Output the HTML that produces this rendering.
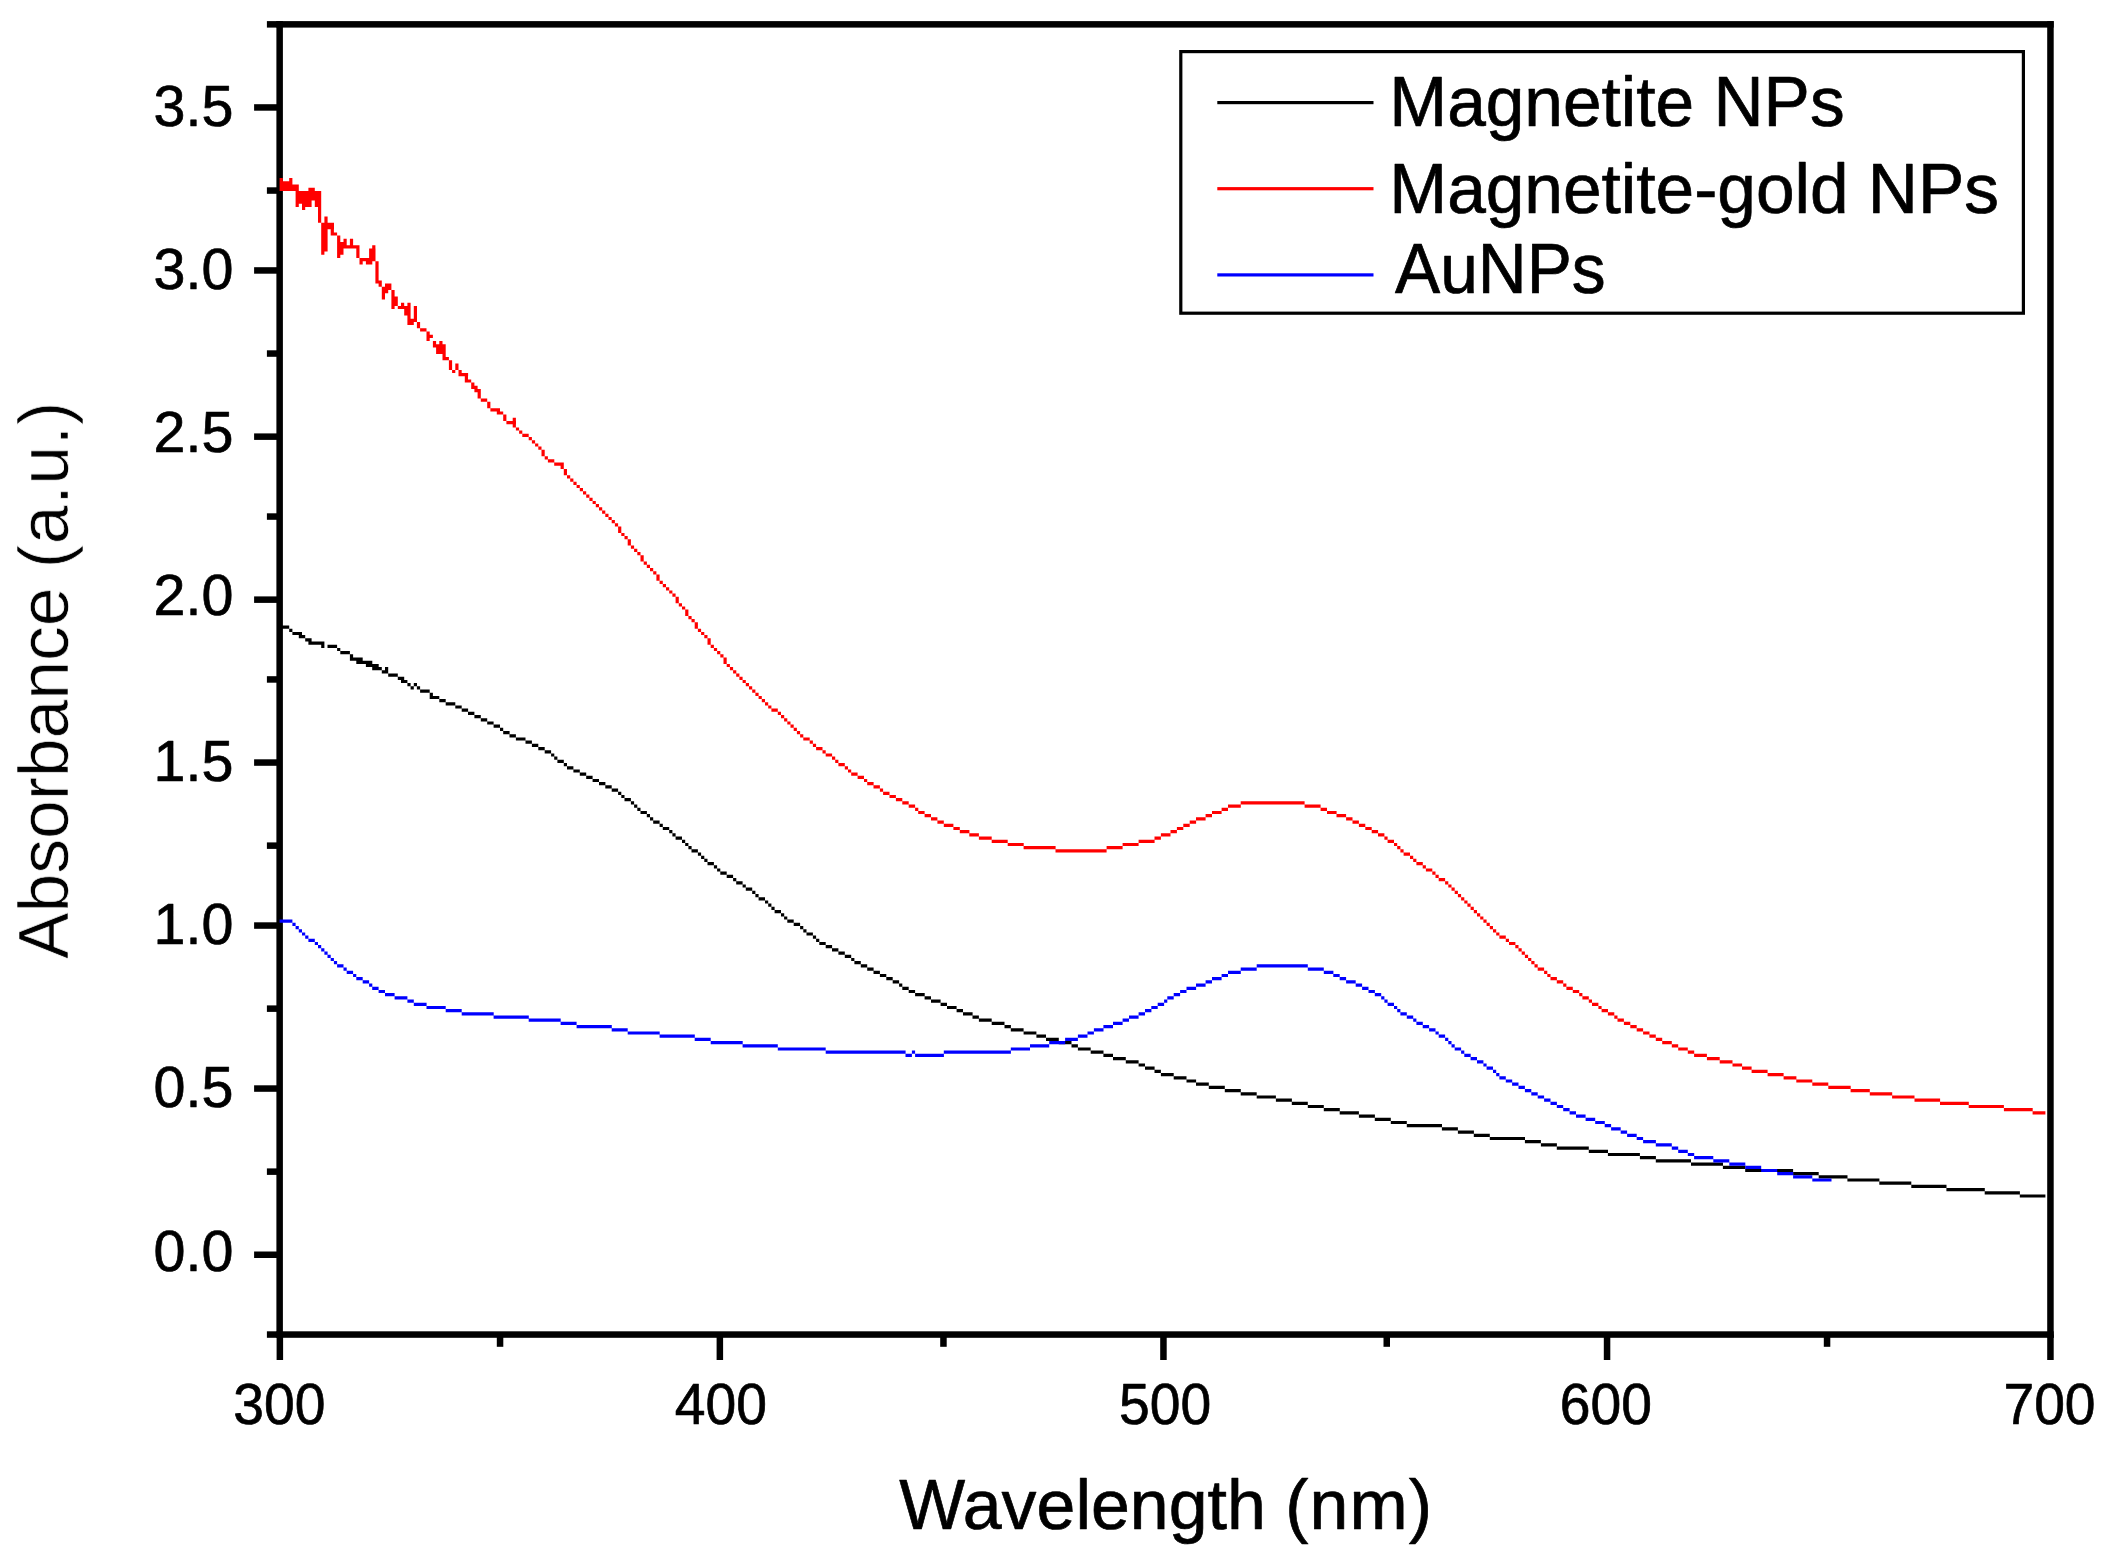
<!DOCTYPE html>
<html lang="en"><head><meta charset="utf-8"><title>UV-Vis absorbance spectra</title>
<style>html,body{margin:0;padding:0;background:#fff}body{width:2117px;height:1563px;overflow:hidden}svg{display:block}text{font-family:"Liberation Sans",Arial,sans-serif;fill:#000;stroke:#000;stroke-width:0.7px;stroke-linejoin:round;filter:blur(0.55px)}</style></head><body>
<svg width="2117" height="1563" viewBox="0 0 2117 1563">
<rect width="2117" height="1563" fill="#fff"/>
<g fill="#000"><rect x="276.4" y="21.1" width="6.5" height="1316.7"/><rect x="2047.2" y="21.1" width="6.5" height="1316.7"/><rect x="276.4" y="21.1" width="1777.3" height="6.5"/><rect x="276.4" y="1331.3" width="1777.3" height="6.5"/><rect x="254.1" y="104.2" width="25.5" height="6.5"/><rect x="254.1" y="267.2" width="25.5" height="6.5"/><rect x="254.1" y="433.4" width="25.5" height="6.5"/><rect x="254.1" y="596.4" width="25.5" height="6.5"/><rect x="254.1" y="759.3" width="25.5" height="6.5"/><rect x="254.1" y="922.3" width="25.5" height="6.5"/><rect x="254.1" y="1085.3" width="25.5" height="6.5"/><rect x="254.1" y="1251.5" width="25.5" height="6.5"/><rect x="266.9" y="21.1" width="12.8" height="6.5"/><rect x="266.9" y="187.3" width="12.8" height="6.5"/><rect x="266.9" y="350.3" width="12.8" height="6.5"/><rect x="266.9" y="513.3" width="12.8" height="6.5"/><rect x="266.9" y="676.2" width="12.8" height="6.5"/><rect x="266.9" y="842.4" width="12.8" height="6.5"/><rect x="266.9" y="1005.4" width="12.8" height="6.5"/><rect x="266.9" y="1168.4" width="12.8" height="6.5"/><rect x="266.9" y="1331.3" width="12.8" height="6.5"/><rect x="276.6" y="1334.6" width="6.5" height="25.4"/><rect x="716.6" y="1334.6" width="6.5" height="25.4"/><rect x="1160.2" y="1334.6" width="6.5" height="25.4"/><rect x="1603.8" y="1334.6" width="6.5" height="25.4"/><rect x="2047.2" y="1334.6" width="6.5" height="25.4"/><rect x="496.8" y="1334.6" width="6.5" height="12.2"/><rect x="940.2" y="1334.6" width="6.5" height="12.2"/><rect x="1383.5" y="1334.6" width="6.5" height="12.2"/><rect x="1823.8" y="1334.6" width="6.5" height="12.2"/></g>
<path fill="#000" d="M279.6 625.5h9.6v3.2h-9.6zM289.2 628.7h3.2v3.2h-3.2zM292.4 631.9h9.6v3.2h-9.6zM298.8 635.1h6.4v3.2h-6.4zM305.2 638.3h6.4v3.2h-6.4zM308.4 641.5h16.0v3.2h-16.0zM321.2 644.7h3.2v3.2h-3.2zM327.5 644.7h9.6v3.2h-9.6zM337.1 647.9h3.2v3.2h-3.2zM340.3 651.1h9.6v3.2h-9.6zM349.9 654.3h3.2v3.2h-3.2zM349.9 657.5h12.8v3.2h-12.8zM356.3 660.7h16.0v3.2h-16.0zM365.9 663.9h12.8v3.2h-12.8zM372.2 667.1h9.6v3.2h-9.6zM385.0 667.1h3.2v3.2h-3.2zM381.8 670.3h6.4v3.2h-6.4zM388.2 673.5h9.6v3.2h-9.6zM397.8 676.7h6.4v3.2h-6.4zM401.0 679.9h6.4v3.2h-6.4zM407.4 683.1h3.2v3.2h-3.2zM413.8 683.1h3.2v3.2h-3.2zM410.6 686.3h3.2v3.2h-3.2zM416.9 686.3h3.2v3.2h-3.2zM420.1 689.5h9.6v3.2h-9.6zM429.7 692.7h3.2v3.2h-3.2zM429.7 695.9h9.6v3.2h-9.6zM439.3 699.0h6.4v3.2h-6.4zM445.7 702.2h9.6v3.2h-9.6zM455.3 705.4h6.4v3.2h-6.4zM461.7 708.6h6.4v3.2h-6.4zM468.0 711.8h6.4v3.2h-6.4zM474.4 715.0h6.4v3.2h-6.4zM480.8 718.2h6.4v3.2h-6.4zM487.2 721.4h6.4v3.2h-6.4zM493.6 724.6h6.4v3.2h-6.4zM500.0 727.8h3.2v3.2h-3.2zM503.2 731.0h6.4v3.2h-6.4zM509.5 734.2h6.4v3.2h-6.4zM515.9 737.4h9.6v3.2h-9.6zM525.5 740.6h6.4v3.2h-6.4zM531.9 743.8h6.4v3.2h-6.4zM538.3 747.0h6.4v3.2h-6.4zM544.7 750.2h6.4v3.2h-6.4zM551.1 753.4h3.2v3.2h-3.2zM554.2 756.6h3.2v3.2h-3.2zM557.4 759.8h6.4v3.2h-6.4zM563.8 763.0h3.2v3.2h-3.2zM567.0 766.2h6.4v3.2h-6.4zM573.4 769.4h6.4v3.2h-6.4zM579.8 772.6h6.4v3.2h-6.4zM586.2 775.8h6.4v3.2h-6.4zM592.6 778.9h6.4v3.2h-6.4zM599.0 782.1h6.4v3.2h-6.4zM605.3 785.3h6.4v3.2h-6.4zM611.7 788.5h6.4v3.2h-6.4zM618.1 791.7h3.2v3.2h-3.2zM621.3 794.9h3.2v3.2h-3.2zM624.5 798.1h6.4v3.2h-6.4zM630.9 801.3h3.2v3.2h-3.2zM634.1 804.5h3.2v3.2h-3.2zM637.3 807.7h3.2v3.2h-3.2zM640.5 810.9h6.4v3.2h-6.4zM646.8 814.1h3.2v3.2h-3.2zM650.0 817.3h3.2v3.2h-3.2zM653.2 820.5h6.4v3.2h-6.4zM659.6 823.7h3.2v3.2h-3.2zM662.8 826.9h6.4v3.2h-6.4zM669.2 830.1h3.2v3.2h-3.2zM672.4 833.3h3.2v3.2h-3.2zM675.6 836.5h6.4v3.2h-6.4zM682.0 839.7h3.2v3.2h-3.2zM685.2 842.9h3.2v3.2h-3.2zM688.4 846.1h3.2v3.2h-3.2zM691.5 849.3h6.4v3.2h-6.4zM697.9 852.5h3.2v3.2h-3.2zM701.1 855.7h3.2v3.2h-3.2zM704.3 858.8h3.2v3.2h-3.2zM707.5 862.0h6.4v3.2h-6.4zM713.9 865.2h3.2v3.2h-3.2zM717.1 868.4h3.2v3.2h-3.2zM720.3 871.6h6.4v3.2h-6.4zM726.7 874.8h6.4v3.2h-6.4zM733.1 878.0h3.2v3.2h-3.2zM736.2 881.2h6.4v3.2h-6.4zM742.6 884.4h3.2v3.2h-3.2zM745.8 887.6h6.4v3.2h-6.4zM752.2 890.8h3.2v3.2h-3.2zM755.4 894.0h3.2v3.2h-3.2zM758.6 897.2h6.4v3.2h-6.4zM765.0 900.4h3.2v3.2h-3.2zM768.2 903.6h3.2v3.2h-3.2zM771.4 906.8h3.2v3.2h-3.2zM774.6 910.0h6.4v3.2h-6.4zM781.0 913.2h3.2v3.2h-3.2zM784.1 916.4h3.2v3.2h-3.2zM787.3 919.6h6.4v3.2h-6.4zM793.7 922.8h6.4v3.2h-6.4zM800.1 926.0h3.2v3.2h-3.2zM803.3 929.2h3.2v3.2h-3.2zM806.5 932.4h6.4v3.2h-6.4zM812.9 935.6h3.2v3.2h-3.2zM816.1 938.7h3.2v3.2h-3.2zM819.3 941.9h6.4v3.2h-6.4zM825.7 945.1h6.4v3.2h-6.4zM832.0 948.3h6.4v3.2h-6.4zM838.4 951.5h6.4v3.2h-6.4zM844.8 954.7h6.4v3.2h-6.4zM851.2 957.9h3.2v3.2h-3.2zM854.4 961.1h6.4v3.2h-6.4zM860.8 964.3h6.4v3.2h-6.4zM867.2 967.5h6.4v3.2h-6.4zM873.5 970.7h6.4v3.2h-6.4zM879.9 973.9h6.4v3.2h-6.4zM886.3 977.1h6.4v3.2h-6.4zM892.7 980.3h6.4v3.2h-6.4zM899.1 983.5h3.2v3.2h-3.2zM902.3 986.7h6.4v3.2h-6.4zM908.7 989.9h6.4v3.2h-6.4zM915.1 993.1h9.6v3.2h-9.6zM924.6 996.3h6.4v3.2h-6.4zM931.0 999.5h9.6v3.2h-9.6zM940.6 1002.7h6.4v3.2h-6.4zM947.0 1005.9h9.6v3.2h-9.6zM956.6 1009.1h6.4v3.2h-6.4zM963.0 1012.3h9.6v3.2h-9.6zM972.5 1015.5h6.4v3.2h-6.4zM978.9 1018.6h12.8v3.2h-12.8zM991.7 1021.8h12.8v3.2h-12.8zM1004.5 1025.0h6.4v3.2h-6.4zM1010.8 1028.2h12.8v3.2h-12.8zM1023.6 1031.4h12.8v3.2h-12.8zM1036.4 1034.6h9.6v3.2h-9.6zM1046.0 1037.8h12.8v3.2h-12.8zM1058.7 1041.0h12.8v3.2h-12.8zM1071.5 1044.2h6.4v3.2h-6.4zM1077.9 1047.4h12.8v3.2h-12.8zM1090.7 1050.6h12.8v3.2h-12.8zM1103.4 1053.8h9.6v3.2h-9.6zM1113.0 1057.0h12.8v3.2h-12.8zM1125.8 1060.2h12.8v3.2h-12.8zM1138.6 1063.4h6.4v3.2h-6.4zM1145.0 1066.6h9.6v3.2h-9.6zM1154.5 1069.8h6.4v3.2h-6.4zM1160.9 1073.0h12.8v3.2h-12.8zM1173.7 1076.2h12.8v3.2h-12.8zM1186.5 1079.4h9.6v3.2h-9.6zM1196.0 1082.6h12.8v3.2h-12.8zM1208.8 1085.8h16.0v3.2h-16.0zM1224.8 1089.0h16.0v3.2h-16.0zM1240.7 1092.2h16.0v3.2h-16.0zM1256.7 1095.4h19.2v3.2h-19.2zM1275.9 1098.5h16.0v3.2h-16.0zM1291.8 1101.7h16.0v3.2h-16.0zM1307.8 1104.9h16.0v3.2h-16.0zM1323.8 1108.1h16.0v3.2h-16.0zM1339.7 1111.3h19.2v3.2h-19.2zM1358.9 1114.5h16.0v3.2h-16.0zM1374.8 1117.7h16.0v3.2h-16.0zM1390.8 1120.9h16.0v3.2h-16.0zM1406.8 1124.1h35.2v3.2h-35.2zM1441.9 1127.3h16.0v3.2h-16.0zM1457.9 1130.5h16.0v3.2h-16.0zM1473.8 1133.7h16.0v3.2h-16.0zM1489.8 1136.9h35.2v3.2h-35.2zM1524.9 1140.1h16.0v3.2h-16.0zM1540.9 1143.3h16.0v3.2h-16.0zM1556.8 1146.5h32.0v3.2h-32.0zM1588.8 1149.7h19.2v3.2h-19.2zM1607.9 1152.9h32.0v3.2h-32.0zM1639.9 1156.1h16.0v3.2h-16.0zM1655.8 1159.3h35.2v3.2h-35.2zM1691.0 1162.5h32.0v3.2h-32.0zM1722.9 1165.7h22.4v3.2h-22.4zM1745.2 1168.9h47.9v3.2h-47.9zM1793.1 1172.1h25.6v3.2h-25.6zM1818.7 1175.3h28.8v3.2h-28.8zM1847.4 1178.4h32.0v3.2h-32.0zM1879.3 1181.6h32.0v3.2h-32.0zM1911.3 1184.8h35.2v3.2h-35.2zM1946.4 1188.0h38.4v3.2h-38.4zM1984.7 1191.2h35.2v3.2h-35.2zM2019.8 1194.4h25.6v3.2h-25.6z"/>
<path fill="#00f" d="M279.6 919.6h12.8v3.2h-12.8zM292.4 922.8h3.2v3.2h-3.2zM295.6 926.0h3.2v3.2h-3.2zM298.8 929.2h3.2v3.2h-3.2zM302.0 932.4h3.2v3.2h-3.2zM305.2 935.6h3.2v3.2h-3.2zM308.4 938.7h6.4v3.2h-6.4zM314.8 941.9h3.2v3.2h-3.2zM318.0 945.1h3.2v3.2h-3.2zM321.2 948.3h3.2v3.2h-3.2zM324.4 951.5h3.2v3.2h-3.2zM327.5 954.7h3.2v3.2h-3.2zM330.7 957.9h3.2v3.2h-3.2zM333.9 961.1h3.2v3.2h-3.2zM337.1 964.3h6.4v3.2h-6.4zM1256.7 964.3h51.1v3.2h-51.1zM343.5 967.5h3.2v3.2h-3.2zM1240.7 967.5h16.0v3.2h-16.0zM1307.8 967.5h16.0v3.2h-16.0zM346.7 970.7h6.4v3.2h-6.4zM1228.0 970.7h12.8v3.2h-12.8zM1323.8 970.7h9.6v3.2h-9.6zM353.1 973.9h3.2v3.2h-3.2zM1221.6 973.9h6.4v3.2h-6.4zM1333.3 973.9h6.4v3.2h-6.4zM356.3 977.1h6.4v3.2h-6.4zM1212.0 977.1h9.6v3.2h-9.6zM1339.7 977.1h6.4v3.2h-6.4zM362.7 980.3h6.4v3.2h-6.4zM1205.6 980.3h6.4v3.2h-6.4zM1346.1 980.3h9.6v3.2h-9.6zM369.1 983.5h3.2v3.2h-3.2zM1196.0 983.5h9.6v3.2h-9.6zM1355.7 983.5h6.4v3.2h-6.4zM372.2 986.7h6.4v3.2h-6.4zM1186.5 986.7h9.6v3.2h-9.6zM1362.1 986.7h6.4v3.2h-6.4zM378.6 989.9h6.4v3.2h-6.4zM1180.1 989.9h6.4v3.2h-6.4zM1368.5 989.9h6.4v3.2h-6.4zM385.0 993.1h9.6v3.2h-9.6zM1173.7 993.1h6.4v3.2h-6.4zM1374.8 993.1h6.4v3.2h-6.4zM394.6 996.3h12.8v3.2h-12.8zM1167.3 996.3h6.4v3.2h-6.4zM1381.2 996.3h3.2v3.2h-3.2zM407.4 999.5h6.4v3.2h-6.4zM1164.1 999.5h3.2v3.2h-3.2zM1384.4 999.5h3.2v3.2h-3.2zM413.8 1002.7h12.8v3.2h-12.8zM1157.7 1002.7h6.4v3.2h-6.4zM1387.6 1002.7h6.4v3.2h-6.4zM426.5 1005.9h19.2v3.2h-19.2zM1151.3 1005.9h6.4v3.2h-6.4zM1394.0 1005.9h3.2v3.2h-3.2zM445.7 1009.1h16.0v3.2h-16.0zM1145.0 1009.1h6.4v3.2h-6.4zM1397.2 1009.1h3.2v3.2h-3.2zM461.7 1012.3h32.0v3.2h-32.0zM1138.6 1012.3h6.4v3.2h-6.4zM1400.4 1012.3h6.4v3.2h-6.4zM493.6 1015.5h35.2v3.2h-35.2zM1129.0 1015.5h9.6v3.2h-9.6zM1406.8 1015.5h6.4v3.2h-6.4zM528.7 1018.6h32.0v3.2h-32.0zM1122.6 1018.6h6.4v3.2h-6.4zM1413.2 1018.6h3.2v3.2h-3.2zM560.6 1021.8h16.0v3.2h-16.0zM1113.0 1021.8h9.6v3.2h-9.6zM1416.4 1021.8h6.4v3.2h-6.4zM576.6 1025.0h35.2v3.2h-35.2zM1103.4 1025.0h9.6v3.2h-9.6zM1422.7 1025.0h6.4v3.2h-6.4zM611.7 1028.2h16.0v3.2h-16.0zM1093.9 1028.2h9.6v3.2h-9.6zM1429.1 1028.2h6.4v3.2h-6.4zM627.7 1031.4h32.0v3.2h-32.0zM1087.5 1031.4h6.4v3.2h-6.4zM1435.5 1031.4h3.2v3.2h-3.2zM659.6 1034.6h35.2v3.2h-35.2zM1077.9 1034.6h9.6v3.2h-9.6zM1438.7 1034.6h6.4v3.2h-6.4zM694.7 1037.8h16.0v3.2h-16.0zM1065.1 1037.8h12.8v3.2h-12.8zM1445.1 1037.8h3.2v3.2h-3.2zM710.7 1041.0h32.0v3.2h-32.0zM1049.2 1041.0h16.0v3.2h-16.0zM1448.3 1041.0h3.2v3.2h-3.2zM742.6 1044.2h35.2v3.2h-35.2zM1030.0 1044.2h19.2v3.2h-19.2zM1451.5 1044.2h3.2v3.2h-3.2zM777.8 1047.4h47.9v3.2h-47.9zM1010.8 1047.4h19.2v3.2h-19.2zM1454.7 1047.4h6.4v3.2h-6.4zM825.7 1050.6h79.9v3.2h-79.9zM911.9 1050.6h3.2v3.2h-3.2zM943.8 1050.6h67.1v3.2h-67.1zM1461.1 1050.6h3.2v3.2h-3.2zM905.5 1053.8h6.4v3.2h-6.4zM915.1 1053.8h28.8v3.2h-28.8zM1464.3 1053.8h6.4v3.2h-6.4zM1470.6 1057.0h6.4v3.2h-6.4zM1477.0 1060.2h6.4v3.2h-6.4zM1483.4 1063.4h3.2v3.2h-3.2zM1486.6 1066.6h6.4v3.2h-6.4zM1493.0 1069.8h3.2v3.2h-3.2zM1496.2 1073.0h3.2v3.2h-3.2zM1499.4 1076.2h6.4v3.2h-6.4zM1505.8 1079.4h6.4v3.2h-6.4zM1512.1 1082.6h6.4v3.2h-6.4zM1518.5 1085.8h6.4v3.2h-6.4zM1524.9 1089.0h6.4v3.2h-6.4zM1531.3 1092.2h6.4v3.2h-6.4zM1537.7 1095.4h6.4v3.2h-6.4zM1544.1 1098.5h6.4v3.2h-6.4zM1550.5 1101.7h6.4v3.2h-6.4zM1556.8 1104.9h6.4v3.2h-6.4zM1563.2 1108.1h6.4v3.2h-6.4zM1569.6 1111.3h6.4v3.2h-6.4zM1576.0 1114.5h9.6v3.2h-9.6zM1585.6 1117.7h9.6v3.2h-9.6zM1595.2 1120.9h9.6v3.2h-9.6zM1604.7 1124.1h6.4v3.2h-6.4zM1611.1 1127.3h9.6v3.2h-9.6zM1620.7 1130.5h6.4v3.2h-6.4zM1627.1 1133.7h9.6v3.2h-9.6zM1636.7 1136.9h6.4v3.2h-6.4zM1643.1 1140.1h12.8v3.2h-12.8zM1655.8 1143.3h16.0v3.2h-16.0zM1671.8 1146.5h6.4v3.2h-6.4zM1678.2 1149.7h9.6v3.2h-9.6zM1687.8 1152.9h6.4v3.2h-6.4zM1694.1 1156.1h19.2v3.2h-19.2zM1713.3 1159.3h16.0v3.2h-16.0zM1729.3 1162.5h16.0v3.2h-16.0zM1745.2 1165.7h16.0v3.2h-16.0zM1761.2 1168.9h16.0v3.2h-16.0zM1777.2 1172.1h16.0v3.2h-16.0zM1793.1 1175.3h19.2v3.2h-19.2zM1812.3 1178.4h19.2v3.2h-19.2z"/>
<path fill="#f00" d="M279.6 178.1h3.2v3.2h-3.2zM289.2 178.1h3.2v3.2h-3.2zM279.6 181.3h12.8v3.2h-12.8zM279.6 184.5h19.2v3.2h-19.2zM279.6 187.7h19.2v3.2h-19.2zM308.4 187.7h6.4v3.2h-6.4zM295.6 190.9h25.6v3.2h-25.6zM295.6 194.1h25.6v3.2h-25.6zM295.6 197.3h25.6v3.2h-25.6zM295.6 200.5h16.0v3.2h-16.0zM314.8 200.5h6.4v3.2h-6.4zM295.6 203.7h3.2v3.2h-3.2zM302.0 203.7h9.6v3.2h-9.6zM314.8 203.7h6.4v3.2h-6.4zM302.0 206.9h3.2v3.2h-3.2zM318.0 206.9h3.2v3.2h-3.2zM318.0 210.1h3.2v3.2h-3.2zM318.0 213.3h3.2v3.2h-3.2zM318.0 216.5h3.2v3.2h-3.2zM324.4 216.5h3.2v3.2h-3.2zM318.0 219.6h3.2v3.2h-3.2zM324.4 219.6h3.2v3.2h-3.2zM321.2 222.8h12.8v3.2h-12.8zM321.2 226.0h12.8v3.2h-12.8zM321.2 229.2h6.4v3.2h-6.4zM330.7 229.2h3.2v3.2h-3.2zM321.2 232.4h6.4v3.2h-6.4zM330.7 232.4h6.4v3.2h-6.4zM321.2 235.6h6.4v3.2h-6.4zM337.1 235.6h3.2v3.2h-3.2zM321.2 238.8h6.4v3.2h-6.4zM337.1 238.8h3.2v3.2h-3.2zM343.5 238.8h3.2v3.2h-3.2zM349.9 238.8h3.2v3.2h-3.2zM321.2 242.0h6.4v3.2h-6.4zM337.1 242.0h9.6v3.2h-9.6zM349.9 242.0h3.2v3.2h-3.2zM321.2 245.2h6.4v3.2h-6.4zM337.1 245.2h22.4v3.2h-22.4zM372.2 245.2h3.2v3.2h-3.2zM321.2 248.4h6.4v3.2h-6.4zM337.1 248.4h6.4v3.2h-6.4zM356.3 248.4h3.2v3.2h-3.2zM369.1 248.4h6.4v3.2h-6.4zM321.2 251.6h3.2v3.2h-3.2zM337.1 251.6h6.4v3.2h-6.4zM356.3 251.6h3.2v3.2h-3.2zM369.1 251.6h6.4v3.2h-6.4zM337.1 254.8h3.2v3.2h-3.2zM356.3 254.8h3.2v3.2h-3.2zM369.1 254.8h6.4v3.2h-6.4zM359.5 258.0h16.0v3.2h-16.0zM359.5 261.2h3.2v3.2h-3.2zM365.9 261.2h6.4v3.2h-6.4zM375.4 261.2h3.2v3.2h-3.2zM375.4 264.4h3.2v3.2h-3.2zM375.4 267.6h3.2v3.2h-3.2zM375.4 270.8h3.2v3.2h-3.2zM375.4 274.0h3.2v3.2h-3.2zM375.4 277.2h3.2v3.2h-3.2zM375.4 280.4h6.4v3.2h-6.4zM378.6 283.6h3.2v3.2h-3.2zM385.0 283.6h6.4v3.2h-6.4zM381.8 286.8h9.6v3.2h-9.6zM381.8 290.0h6.4v3.2h-6.4zM391.4 290.0h3.2v3.2h-3.2zM381.8 293.2h3.2v3.2h-3.2zM391.4 293.2h3.2v3.2h-3.2zM381.8 296.4h3.2v3.2h-3.2zM391.4 296.4h6.4v3.2h-6.4zM391.4 299.5h6.4v3.2h-6.4zM391.4 302.7h6.4v3.2h-6.4zM401.0 302.7h3.2v3.2h-3.2zM407.4 302.7h3.2v3.2h-3.2zM391.4 305.9h3.2v3.2h-3.2zM397.8 305.9h12.8v3.2h-12.8zM413.8 305.9h3.2v3.2h-3.2zM404.2 309.1h6.4v3.2h-6.4zM413.8 309.1h3.2v3.2h-3.2zM404.2 312.3h6.4v3.2h-6.4zM413.8 312.3h3.2v3.2h-3.2zM407.4 315.5h3.2v3.2h-3.2zM413.8 315.5h3.2v3.2h-3.2zM407.4 318.7h9.6v3.2h-9.6zM407.4 321.9h6.4v3.2h-6.4zM416.9 321.9h3.2v3.2h-3.2zM416.9 325.1h3.2v3.2h-3.2zM420.1 328.3h6.4v3.2h-6.4zM426.5 331.5h3.2v3.2h-3.2zM426.5 334.7h6.4v3.2h-6.4zM426.5 337.9h3.2v3.2h-3.2zM432.9 341.1h3.2v3.2h-3.2zM439.3 341.1h3.2v3.2h-3.2zM432.9 344.3h12.8v3.2h-12.8zM436.1 347.5h9.6v3.2h-9.6zM436.1 350.7h9.6v3.2h-9.6zM442.5 353.9h3.2v3.2h-3.2zM442.5 357.1h6.4v3.2h-6.4zM448.9 360.3h3.2v3.2h-3.2zM448.9 363.5h3.2v3.2h-3.2zM455.3 363.5h3.2v3.2h-3.2zM448.9 366.7h3.2v3.2h-3.2zM455.3 366.7h3.2v3.2h-3.2zM452.1 369.9h3.2v3.2h-3.2zM458.5 369.9h3.2v3.2h-3.2zM458.5 373.1h9.6v3.2h-9.6zM464.8 376.3h3.2v3.2h-3.2zM464.8 379.4h6.4v3.2h-6.4zM471.2 382.6h3.2v3.2h-3.2zM471.2 385.8h6.4v3.2h-6.4zM474.4 389.0h6.4v3.2h-6.4zM477.6 392.2h3.2v3.2h-3.2zM477.6 395.4h3.2v3.2h-3.2zM480.8 398.6h6.4v3.2h-6.4zM487.2 401.8h3.2v3.2h-3.2zM487.2 405.0h3.2v3.2h-3.2zM490.4 408.2h9.6v3.2h-9.6zM496.8 411.4h6.4v3.2h-6.4zM503.2 414.6h3.2v3.2h-3.2zM503.2 417.8h3.2v3.2h-3.2zM512.7 417.8h3.2v3.2h-3.2zM506.4 421.0h9.6v3.2h-9.6zM512.7 424.2h3.2v3.2h-3.2zM515.9 427.4h3.2v3.2h-3.2zM519.1 430.6h3.2v3.2h-3.2zM522.3 433.8h6.4v3.2h-6.4zM528.7 437.0h3.2v3.2h-3.2zM531.9 440.2h3.2v3.2h-3.2zM535.1 443.4h3.2v3.2h-3.2zM538.3 446.6h3.2v3.2h-3.2zM541.5 449.8h3.2v3.2h-3.2zM541.5 453.0h3.2v3.2h-3.2zM544.7 456.2h3.2v3.2h-3.2zM547.9 459.3h6.4v3.2h-6.4zM554.2 462.5h9.6v3.2h-9.6zM560.6 465.7h3.2v3.2h-3.2zM563.8 468.9h3.2v3.2h-3.2zM563.8 472.1h3.2v3.2h-3.2zM567.0 475.3h3.2v3.2h-3.2zM570.2 478.5h3.2v3.2h-3.2zM573.4 481.7h3.2v3.2h-3.2zM576.6 484.9h3.2v3.2h-3.2zM579.8 488.1h3.2v3.2h-3.2zM583.0 491.3h3.2v3.2h-3.2zM586.2 494.5h3.2v3.2h-3.2zM589.4 497.7h3.2v3.2h-3.2zM592.6 500.9h3.2v3.2h-3.2zM595.8 504.1h3.2v3.2h-3.2zM599.0 507.3h3.2v3.2h-3.2zM602.1 510.5h3.2v3.2h-3.2zM605.3 513.7h3.2v3.2h-3.2zM608.5 516.9h3.2v3.2h-3.2zM611.7 520.1h3.2v3.2h-3.2zM614.9 523.3h3.2v3.2h-3.2zM618.1 526.5h3.2v3.2h-3.2zM618.1 529.7h3.2v3.2h-3.2zM621.3 532.9h3.2v3.2h-3.2zM624.5 536.1h3.2v3.2h-3.2zM627.7 539.2h3.2v3.2h-3.2zM627.7 542.4h3.2v3.2h-3.2zM630.9 545.6h3.2v3.2h-3.2zM634.1 548.8h3.2v3.2h-3.2zM637.3 552.0h3.2v3.2h-3.2zM640.5 555.2h3.2v3.2h-3.2zM640.5 558.4h3.2v3.2h-3.2zM643.7 561.6h3.2v3.2h-3.2zM646.8 564.8h3.2v3.2h-3.2zM650.0 568.0h3.2v3.2h-3.2zM653.2 571.2h3.2v3.2h-3.2zM656.4 574.4h3.2v3.2h-3.2zM656.4 577.6h3.2v3.2h-3.2zM659.6 580.8h3.2v3.2h-3.2zM662.8 584.0h3.2v3.2h-3.2zM666.0 587.2h3.2v3.2h-3.2zM669.2 590.4h3.2v3.2h-3.2zM672.4 593.6h3.2v3.2h-3.2zM675.6 596.8h3.2v3.2h-3.2zM675.6 600.0h3.2v3.2h-3.2zM678.8 603.2h3.2v3.2h-3.2zM682.0 606.4h3.2v3.2h-3.2zM685.2 609.6h3.2v3.2h-3.2zM685.2 612.8h3.2v3.2h-3.2zM688.4 616.0h3.2v3.2h-3.2zM691.5 619.1h3.2v3.2h-3.2zM694.7 622.3h3.2v3.2h-3.2zM694.7 625.5h3.2v3.2h-3.2zM697.9 628.7h3.2v3.2h-3.2zM701.1 631.9h3.2v3.2h-3.2zM704.3 635.1h3.2v3.2h-3.2zM707.5 638.3h3.2v3.2h-3.2zM707.5 641.5h3.2v3.2h-3.2zM710.7 644.7h3.2v3.2h-3.2zM713.9 647.9h3.2v3.2h-3.2zM717.1 651.1h3.2v3.2h-3.2zM720.3 654.3h3.2v3.2h-3.2zM723.5 657.5h3.2v3.2h-3.2zM723.5 660.7h3.2v3.2h-3.2zM726.7 663.9h3.2v3.2h-3.2zM729.9 667.1h3.2v3.2h-3.2zM733.1 670.3h3.2v3.2h-3.2zM736.2 673.5h3.2v3.2h-3.2zM739.4 676.7h3.2v3.2h-3.2zM742.6 679.9h3.2v3.2h-3.2zM745.8 683.1h3.2v3.2h-3.2zM749.0 686.3h3.2v3.2h-3.2zM752.2 689.5h3.2v3.2h-3.2zM755.4 692.7h3.2v3.2h-3.2zM758.6 695.9h3.2v3.2h-3.2zM761.8 699.0h3.2v3.2h-3.2zM765.0 702.2h3.2v3.2h-3.2zM768.2 705.4h3.2v3.2h-3.2zM771.4 708.6h6.4v3.2h-6.4zM777.8 711.8h3.2v3.2h-3.2zM781.0 715.0h3.2v3.2h-3.2zM784.1 718.2h3.2v3.2h-3.2zM787.3 721.4h3.2v3.2h-3.2zM790.5 724.6h3.2v3.2h-3.2zM793.7 727.8h3.2v3.2h-3.2zM796.9 731.0h3.2v3.2h-3.2zM800.1 734.2h3.2v3.2h-3.2zM803.3 737.4h6.4v3.2h-6.4zM809.7 740.6h3.2v3.2h-3.2zM812.9 743.8h3.2v3.2h-3.2zM816.1 747.0h6.4v3.2h-6.4zM822.5 750.2h3.2v3.2h-3.2zM825.7 753.4h6.4v3.2h-6.4zM832.0 756.6h3.2v3.2h-3.2zM835.2 759.8h3.2v3.2h-3.2zM838.4 763.0h6.4v3.2h-6.4zM844.8 766.2h3.2v3.2h-3.2zM848.0 769.4h3.2v3.2h-3.2zM851.2 772.6h6.4v3.2h-6.4zM857.6 775.8h6.4v3.2h-6.4zM864.0 778.9h3.2v3.2h-3.2zM867.2 782.1h6.4v3.2h-6.4zM873.5 785.3h6.4v3.2h-6.4zM879.9 788.5h3.2v3.2h-3.2zM883.1 791.7h6.4v3.2h-6.4zM889.5 794.9h6.4v3.2h-6.4zM895.9 798.1h6.4v3.2h-6.4zM902.3 801.3h6.4v3.2h-6.4zM1240.7 801.3h63.9v3.2h-63.9zM908.7 804.5h6.4v3.2h-6.4zM1228.0 804.5h12.8v3.2h-12.8zM1304.6 804.5h16.0v3.2h-16.0zM915.1 807.7h3.2v3.2h-3.2zM1221.6 807.7h6.4v3.2h-6.4zM1320.6 807.7h6.4v3.2h-6.4zM918.2 810.9h6.4v3.2h-6.4zM1212.0 810.9h9.6v3.2h-9.6zM1327.0 810.9h9.6v3.2h-9.6zM924.6 814.1h6.4v3.2h-6.4zM1205.6 814.1h6.4v3.2h-6.4zM1336.5 814.1h9.6v3.2h-9.6zM931.0 817.3h6.4v3.2h-6.4zM1196.0 817.3h9.6v3.2h-9.6zM1346.1 817.3h6.4v3.2h-6.4zM937.4 820.5h6.4v3.2h-6.4zM1189.7 820.5h6.4v3.2h-6.4zM1352.5 820.5h6.4v3.2h-6.4zM943.8 823.7h9.6v3.2h-9.6zM1183.3 823.7h6.4v3.2h-6.4zM1358.9 823.7h6.4v3.2h-6.4zM953.4 826.9h6.4v3.2h-6.4zM1176.9 826.9h6.4v3.2h-6.4zM1365.3 826.9h6.4v3.2h-6.4zM959.8 830.1h9.6v3.2h-9.6zM1170.5 830.1h6.4v3.2h-6.4zM1371.7 830.1h6.4v3.2h-6.4zM969.3 833.3h9.6v3.2h-9.6zM1160.9 833.3h9.6v3.2h-9.6zM1378.0 833.3h6.4v3.2h-6.4zM978.9 836.5h12.8v3.2h-12.8zM1154.5 836.5h6.4v3.2h-6.4zM1384.4 836.5h3.2v3.2h-3.2zM991.7 839.7h16.0v3.2h-16.0zM1138.6 839.7h16.0v3.2h-16.0zM1387.6 839.7h6.4v3.2h-6.4zM1007.7 842.9h16.0v3.2h-16.0zM1122.6 842.9h16.0v3.2h-16.0zM1394.0 842.9h3.2v3.2h-3.2zM1023.6 846.1h32.0v3.2h-32.0zM1106.6 846.1h16.0v3.2h-16.0zM1397.2 846.1h3.2v3.2h-3.2zM1055.5 849.3h51.1v3.2h-51.1zM1400.4 849.3h3.2v3.2h-3.2zM1403.6 852.5h6.4v3.2h-6.4zM1410.0 855.7h3.2v3.2h-3.2zM1413.2 858.8h3.2v3.2h-3.2zM1416.4 862.0h6.4v3.2h-6.4zM1422.7 865.2h3.2v3.2h-3.2zM1425.9 868.4h6.4v3.2h-6.4zM1432.3 871.6h3.2v3.2h-3.2zM1435.5 874.8h3.2v3.2h-3.2zM1438.7 878.0h6.4v3.2h-6.4zM1445.1 881.2h3.2v3.2h-3.2zM1448.3 884.4h3.2v3.2h-3.2zM1451.5 887.6h3.2v3.2h-3.2zM1454.7 890.8h3.2v3.2h-3.2zM1457.9 894.0h3.2v3.2h-3.2zM1461.1 897.2h3.2v3.2h-3.2zM1464.3 900.4h3.2v3.2h-3.2zM1467.4 903.6h3.2v3.2h-3.2zM1470.6 906.8h3.2v3.2h-3.2zM1473.8 910.0h3.2v3.2h-3.2zM1477.0 913.2h3.2v3.2h-3.2zM1480.2 916.4h3.2v3.2h-3.2zM1483.4 919.6h3.2v3.2h-3.2zM1486.6 922.8h3.2v3.2h-3.2zM1489.8 926.0h3.2v3.2h-3.2zM1493.0 929.2h3.2v3.2h-3.2zM1496.2 932.4h3.2v3.2h-3.2zM1499.4 935.6h6.4v3.2h-6.4zM1505.8 938.7h3.2v3.2h-3.2zM1509.0 941.9h6.4v3.2h-6.4zM1515.3 945.1h3.2v3.2h-3.2zM1518.5 948.3h3.2v3.2h-3.2zM1521.7 951.5h3.2v3.2h-3.2zM1524.9 954.7h3.2v3.2h-3.2zM1528.1 957.9h3.2v3.2h-3.2zM1531.3 961.1h3.2v3.2h-3.2zM1534.5 964.3h3.2v3.2h-3.2zM1537.7 967.5h6.4v3.2h-6.4zM1544.1 970.7h3.2v3.2h-3.2zM1547.3 973.9h3.2v3.2h-3.2zM1550.5 977.1h6.4v3.2h-6.4zM1556.8 980.3h6.4v3.2h-6.4zM1563.2 983.5h3.2v3.2h-3.2zM1566.4 986.7h6.4v3.2h-6.4zM1572.8 989.9h6.4v3.2h-6.4zM1579.2 993.1h3.2v3.2h-3.2zM1582.4 996.3h6.4v3.2h-6.4zM1588.8 999.5h3.2v3.2h-3.2zM1592.0 1002.7h6.4v3.2h-6.4zM1598.4 1005.9h3.2v3.2h-3.2zM1601.6 1009.1h6.4v3.2h-6.4zM1607.9 1012.3h6.4v3.2h-6.4zM1614.3 1015.5h3.2v3.2h-3.2zM1617.5 1018.6h6.4v3.2h-6.4zM1623.9 1021.8h6.4v3.2h-6.4zM1630.3 1025.0h6.4v3.2h-6.4zM1636.7 1028.2h6.4v3.2h-6.4zM1643.1 1031.4h6.4v3.2h-6.4zM1649.4 1034.6h6.4v3.2h-6.4zM1655.8 1037.8h6.4v3.2h-6.4zM1662.2 1041.0h9.6v3.2h-9.6zM1671.8 1044.2h6.4v3.2h-6.4zM1678.2 1047.4h9.6v3.2h-9.6zM1687.8 1050.6h6.4v3.2h-6.4zM1694.1 1053.8h12.8v3.2h-12.8zM1706.9 1057.0h12.8v3.2h-12.8zM1719.7 1060.2h12.8v3.2h-12.8zM1732.5 1063.4h9.6v3.2h-9.6zM1742.0 1066.6h9.6v3.2h-9.6zM1751.6 1069.8h16.0v3.2h-16.0zM1767.6 1073.0h16.0v3.2h-16.0zM1783.6 1076.2h12.8v3.2h-12.8zM1796.3 1079.4h16.0v3.2h-16.0zM1812.3 1082.6h16.0v3.2h-16.0zM1828.3 1085.8h22.4v3.2h-22.4zM1850.6 1089.0h19.2v3.2h-19.2zM1869.8 1092.2h22.4v3.2h-22.4zM1892.1 1095.4h22.4v3.2h-22.4zM1914.5 1098.5h25.6v3.2h-25.6zM1940.0 1101.7h28.8v3.2h-28.8zM1968.7 1104.9h35.2v3.2h-35.2zM2003.9 1108.1h28.8v3.2h-28.8zM2032.6 1111.3h12.8v3.2h-12.8z"/>
<text font-size="58" transform="translate(233.50,126.00) scale(0.9910,1)" text-anchor="end">3.5</text>
<text font-size="58" transform="translate(233.50,289.20) scale(0.9910,1)" text-anchor="end">3.0</text>
<text font-size="58" transform="translate(233.50,452.00) scale(0.9910,1)" text-anchor="end">2.5</text>
<text font-size="58" transform="translate(233.50,615.30) scale(0.9910,1)" text-anchor="end">2.0</text>
<text font-size="58" transform="translate(233.50,781.30) scale(0.9910,1)" text-anchor="end">1.5</text>
<text font-size="58" transform="translate(233.50,944.20) scale(0.9910,1)" text-anchor="end">1.0</text>
<text font-size="58" transform="translate(233.50,1107.20) scale(0.9910,1)" text-anchor="end">0.5</text>
<text font-size="58" transform="translate(233.50,1270.50) scale(0.9910,1)" text-anchor="end">0.0</text>
<text font-size="58" transform="translate(279.40,1423.50) scale(0.9520,1)" text-anchor="middle">300</text>
<text font-size="58" transform="translate(720.90,1423.50) scale(0.9520,1)" text-anchor="middle">400</text>
<text font-size="58" transform="translate(1165.10,1423.50) scale(0.9520,1)" text-anchor="middle">500</text>
<text font-size="58" transform="translate(1605.90,1423.50) scale(0.9520,1)" text-anchor="middle">600</text>
<text font-size="58" transform="translate(2049.50,1423.50) scale(0.9520,1)" text-anchor="middle">700</text>
<text font-size="70.4" transform="translate(1166.30,1528.50) scale(0.9929,1)" text-anchor="middle">Wavelength <tspan letter-spacing="1.1">(nm)</tspan></text>
<text font-size="70.4" transform="translate(68.00,679.90) rotate(-90) scale(0.9886,1)" text-anchor="middle" style="stroke:#fff;stroke-width:0.7px">Absorbance <tspan letter-spacing="0.8">(a.u.)</tspan></text>
<rect x="1180.8" y="51.6" width="842.6" height="261.6" fill="#fff" stroke="#000" stroke-width="3.2"/>
<rect x="1217.3" y="101.0" width="156.2" height="3.2" fill="#000"/>
<rect x="1217.3" y="187.1" width="156.2" height="3.2" fill="#f00"/>
<rect x="1217.3" y="273.3" width="156.2" height="3.2" fill="#00f"/>
<text font-size="70.4" transform="translate(1389.30,126.40) scale(0.9864,1)" text-anchor="start">Magnetite NPs</text>
<text font-size="70.4" transform="translate(1389.30,212.60) scale(0.9864,1)" text-anchor="start">Magnetite-gold NPs</text>
<text font-size="70.4" transform="translate(1395.00,293.30) scale(0.9616,1)" text-anchor="start">AuNPs</text>
</svg></body></html>
